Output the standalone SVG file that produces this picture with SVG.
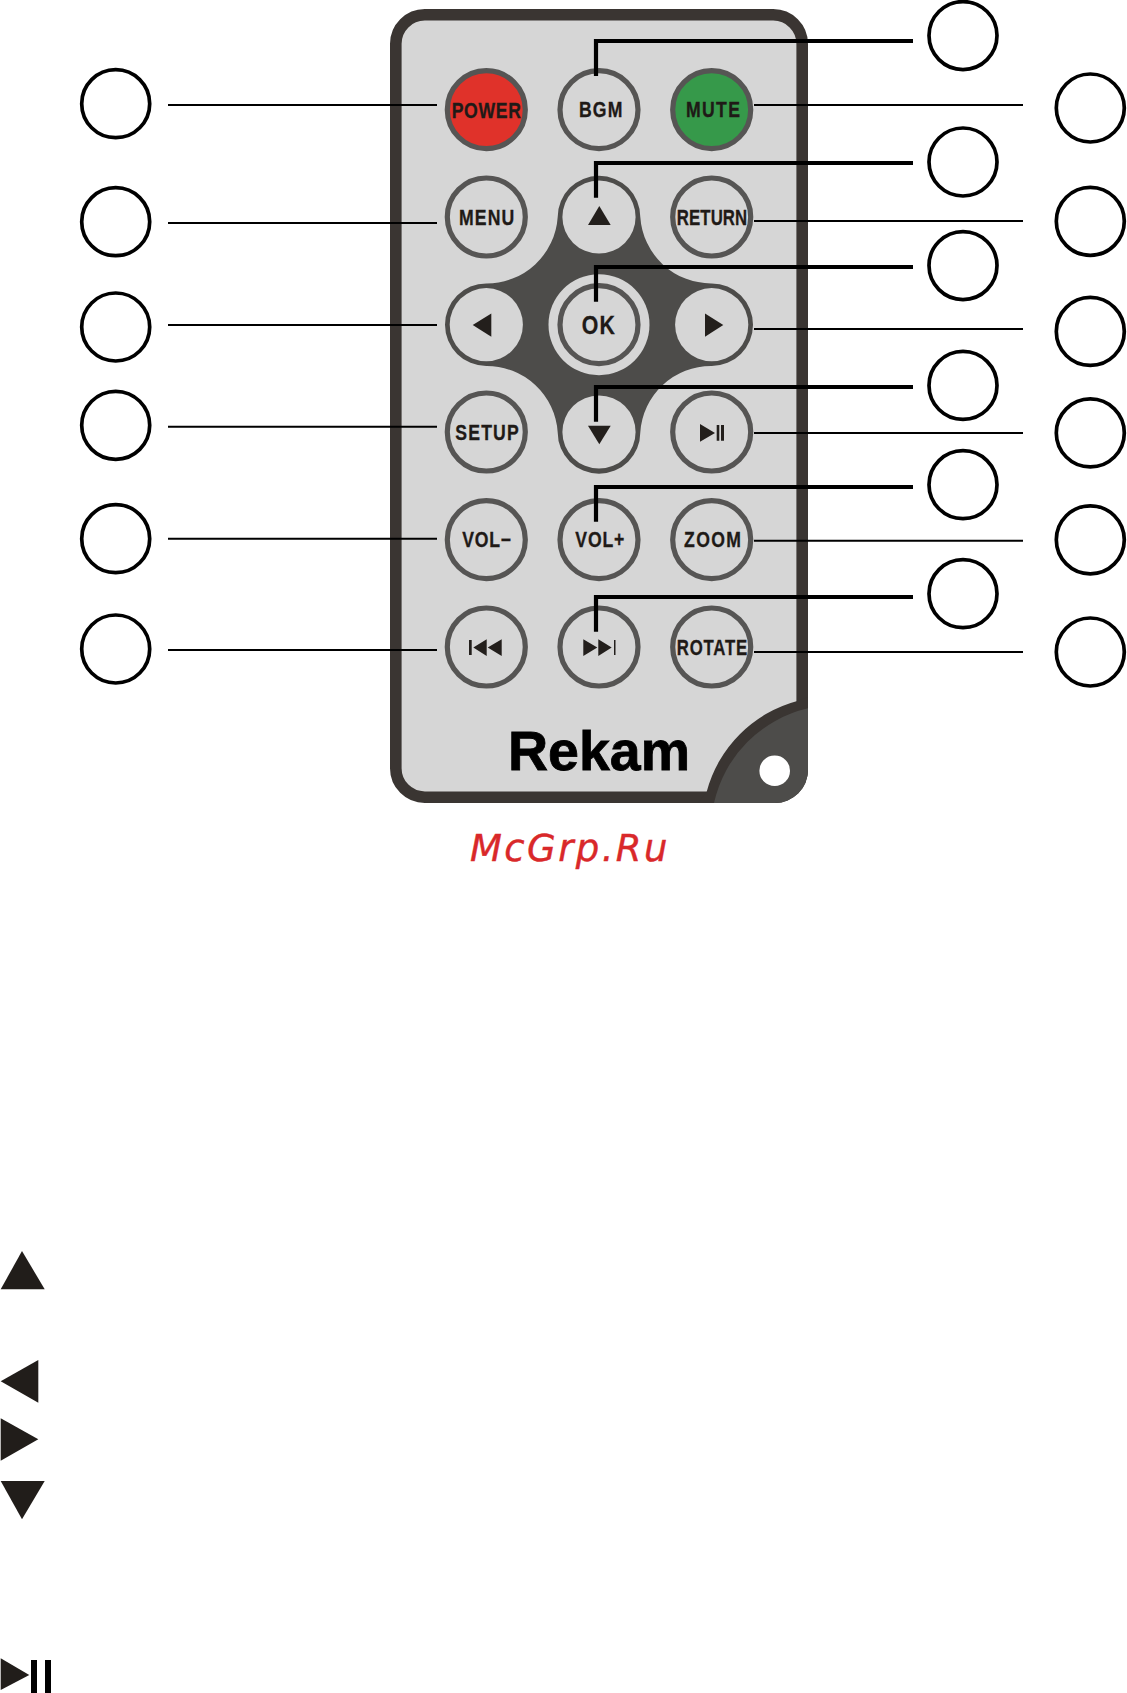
<svg xmlns="http://www.w3.org/2000/svg" width="1127" height="1693" viewBox="0 0 1127 1693">
<style>
.btn{fill:#d6d6d6;stroke:#565554;stroke-width:5.2}
.lbl{font-family:"Liberation Sans",Arial,sans-serif;font-weight:700;font-size:21.5px;fill:#1f1a17;stroke:#1f1a17;stroke-width:.3;text-anchor:middle}
.glyph{fill:#231f1c}
.callout{fill:#fff;stroke:#000;stroke-width:3.7}
.thin{fill:none;stroke:#000;stroke-width:2}
.thick{fill:none;stroke:#000;stroke-width:4.2}
.icon{fill:#211d1a}
</style>
<rect width="1127" height="1693" fill="#fff"/>
<g id="remote">
<rect x="395.8" y="14.8" width="406.4" height="782.4" rx="29" fill="#d6d6d6" stroke="#3a3532" stroke-width="11.6"/>
<path d="M797.3 701 L808 697 L808 770 A33 33 0 0 1 775 803 L698 803 L706.7 791.7 A128 128 0 0 1 797.3 701Z" fill="#3a3532"/>
<path d="M808 708.3 L808 770 A33 33 0 0 1 775 803 L714 803 A125 125 0 0 1 808 708.3Z" fill="#4d4c4a"/>
<circle cx="774.7" cy="770.7" r="15.3" fill="#fff"/>
<text x="599" y="770" font-family="'Liberation Sans',Arial,sans-serif" font-weight="700" font-size="55.5" text-anchor="middle" fill="#000" stroke="#000" stroke-width="0.8">Rekam</text>
</g>
<g id="dpad">
<path d="M557.7 217 A41.3 41.3 0 0 1 640.3 217 A71 71 0 0 0 711.7 283.4 A41.3 41.3 0 0 1 711.7 366 A71 71 0 0 0 640.3 432.5 A41.3 41.3 0 0 1 557.7 432.5 A71 71 0 0 0 486.3 366 A41.3 41.3 0 0 1 486.3 283.4 A71 71 0 0 0 557.7 217Z" fill="#4d4c4a"/>
<circle cx="599" cy="217" r="36.6" fill="#d6d6d6"/>
<circle cx="486.3" cy="324.7" r="36.6" fill="#d6d6d6"/>
<circle cx="711.7" cy="324.7" r="36.6" fill="#d6d6d6"/>
<circle cx="599" cy="432" r="36.6" fill="#d6d6d6"/>
<circle cx="599" cy="324.7" r="50.5" fill="#d6d6d6"/>
</g>
<g id="btn-power"><circle class="btn" style="fill:#e0322a" cx="486.3" cy="109.7" r="39"/><text class="lbl" transform="translate(486.3 117.7) scale(.82 1)" textLength="84.5">POWER</text></g>
<g id="btn-bgm"><circle class="btn" cx="599" cy="109.7" r="39"/><text class="lbl" transform="translate(600.7 116.7) scale(.82 1)" textLength="52.8">BGM</text></g>
<g id="btn-mute"><circle class="btn" style="fill:#36994a" cx="711.7" cy="109.7" r="39"/><text class="lbl" transform="translate(713 116.7) scale(.82 1)" textLength="65.9">MUTE</text></g>
<g id="btn-menu"><circle class="btn" cx="486.3" cy="217" r="39"/><text class="lbl" transform="translate(486.7 225) scale(.82 1)" textLength="67.4">MENU</text></g>
<g id="btn-up"><path class="glyph" d="M588 225H610.7L599.3 206Z"/></g>
<g id="btn-return"><circle class="btn" cx="711.7" cy="217" r="39"/><text class="lbl" transform="translate(712 225) scale(.78 1)" textLength="90.1">RETURN</text></g>
<g id="btn-left"><path class="glyph" d="M472.7 325L491.3 313.5V336.7Z"/></g>
<g id="btn-ok"><circle class="btn" cx="599" cy="324.7" r="39"/><text class="lbl" style="font-size:26px" transform="translate(598.3 334) scale(.82 1)" textLength="40.2">OK</text></g>
<g id="btn-right"><path class="glyph" d="M705 313.5V336.7L723.3 325Z"/></g>
<g id="btn-setup"><circle class="btn" cx="486.3" cy="432" r="39"/><text class="lbl" transform="translate(487 440) scale(.82 1)" textLength="77.2">SETUP</text></g>
<g id="btn-down"><path class="glyph" d="M588 425.7H610.7L599.3 444.3Z"/></g>
<g id="btn-playpause"><circle class="btn" cx="711.7" cy="432" r="39"/><path class="glyph" d="M700 424V441.7L715 433ZM716.7 425H719.3V440.7H716.7ZM721 425H724V440.7H721Z"/></g>
<g id="btn-volminus"><circle class="btn" cx="486.3" cy="539.7" r="39"/><text class="lbl" transform="translate(486.7 547.3) scale(.82 1)" textLength="59.4">VOL−</text></g>
<g id="btn-volplus"><circle class="btn" cx="599" cy="539.7" r="39"/><text class="lbl" transform="translate(599.8 547.3) scale(.82 1)" textLength="59.8">VOL+</text></g>
<g id="btn-zoom"><circle class="btn" cx="711.7" cy="539.7" r="39"/><text class="lbl" transform="translate(712.5 547.3) scale(.82 1)" textLength="69.5">ZOOM</text></g>
<g id="btn-prev"><circle class="btn" cx="486.3" cy="647" r="39"/><path class="glyph" d="M469 640H471.7V655H469ZM473.3 647.5L486.7 639.3V656ZM487.7 647.5L501.7 639.3V656Z"/></g>
<g id="btn-next"><circle class="btn" cx="599" cy="647" r="39"/><path class="glyph" d="M583.3 639.3V656L597.3 647.5ZM598.3 639.3V656L611.7 647.5ZM614 640H615.5V655H614Z"/></g>
<g id="btn-rotate"><circle class="btn" cx="711.7" cy="647" r="39"/><text class="lbl" transform="translate(712 655) scale(.78 1)" textLength="90.1">ROTATE</text></g>
<g id="connectors">
<path class="thin" d="M168 105H437M168 223H437M168 325H437M168 426.7H437M168 538.7H437M168 650H437"/>
<path class="thin" d="M754 105H1023M754 221H1023M754 329H1023M754 433H1023M754 540.7H1023M754 652H1023"/>
<path class="thick" d="M596 76V41H913M596 197.7V163H913M596 301.7V267H913M596 421.7V387H913M596 521.7V487H913M596 631.7V597H913"/>
</g>
<g id="callouts-left">
<circle class="callout" cx="115.7" cy="103.7" r="34"/>
<circle class="callout" cx="115.7" cy="221.7" r="34"/>
<circle class="callout" cx="115.7" cy="327" r="34"/>
<circle class="callout" cx="115.7" cy="425.3" r="34"/>
<circle class="callout" cx="115.7" cy="538.7" r="34"/>
<circle class="callout" cx="115.7" cy="649" r="34"/>
</g>
<g id="callouts-middle">
<circle class="callout" cx="963" cy="35.6" r="34"/>
<circle class="callout" cx="963" cy="162" r="34"/>
<circle class="callout" cx="963" cy="265.6" r="34"/>
<circle class="callout" cx="963" cy="385.4" r="34"/>
<circle class="callout" cx="963" cy="484.7" r="34"/>
<circle class="callout" cx="963" cy="593.7" r="34"/>
</g>
<g id="callouts-right">
<circle class="callout" cx="1090.3" cy="108" r="34"/>
<circle class="callout" cx="1090.3" cy="221.3" r="34"/>
<circle class="callout" cx="1090.3" cy="331.4" r="34"/>
<circle class="callout" cx="1090.3" cy="432.9" r="34"/>
<circle class="callout" cx="1090.3" cy="539.8" r="34"/>
<circle class="callout" cx="1090.3" cy="652" r="34"/>
</g>
<g id="watermark"><text x="470" y="860.7" font-family="'DejaVu Sans',sans-serif" font-style="oblique" font-size="37" letter-spacing="2.4" fill="#d9282a" stroke="#d9282a" stroke-width="0.4">McGrp.Ru</text></g>
<g id="legend-icons">
<path class="icon" d="M0.7 1289.3H44.7L22 1251Z"/>
<path class="icon" d="M0.7 1381.3L38.3 1360V1402.7Z"/>
<path class="icon" d="M0.7 1418.3V1460.7L38.3 1439.3Z"/>
<path class="icon" d="M0.7 1481H44.7L22 1519.3Z"/>
<path class="icon" d="M0.7 1658.3V1690L29.3 1675Z"/>
<path d="M31 1660H37V1693H31ZM45 1660H51V1693H45Z" fill="#000"/>
</g>
</svg>
